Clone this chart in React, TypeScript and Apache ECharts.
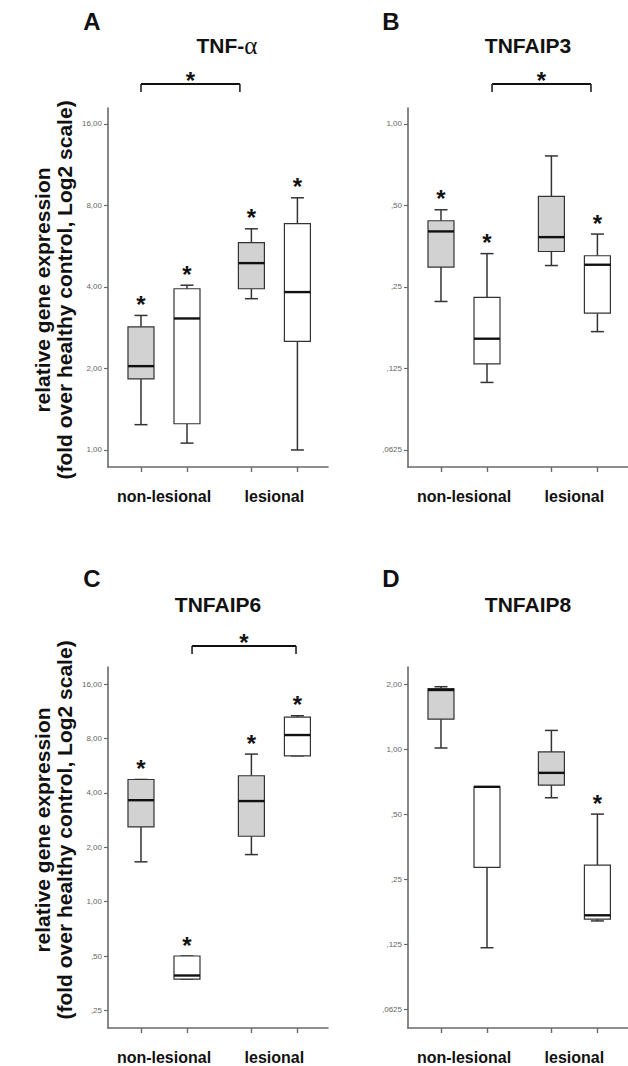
import React, { useEffect, useRef } from 'react';
import * as echarts from 'echarts';

// ---- data (fold over healthy control) ----
const groupLabels = ['non-lesional', 'lesional'];
// box order: non-lesional (grey), non-lesional (white), lesional (grey), lesional (white)
// each box: [min, Q1, median, Q3, max]
const tnfAlphaBoxes = [
  [1.24, 1.83, 2.04, 2.85, 3.14],
  [1.06, 1.25, 3.06, 3.94, 4.06],
  [3.62, 3.94, 4.9, 5.83, 6.56],
  [1.0, 2.52, 3.83, 6.85, 8.54],
];
const tnfaip3Boxes = [
  [0.221, 0.296, 0.401, 0.439, 0.482],
  [0.111, 0.13, 0.161, 0.229, 0.332],
  [0.3, 0.338, 0.382, 0.54, 0.762],
  [0.171, 0.2, 0.302, 0.326, 0.392],
];
const tnfaip6Boxes = [
  [1.66, 2.59, 3.64, 4.74, 4.74],
  [0.372, 0.372, 0.39, 0.5, 0.5],
  [1.82, 2.3, 3.6, 4.97, 6.55],
  [6.41, 6.41, 8.35, 10.5, 10.68],
];
const tnfaip8Boxes = [
  [1.018, 1.384, 1.89, 1.917, 1.957],
  [0.121, 0.285, 0.673, 0.673, 0.673],
  [0.599, 0.685, 0.781, 0.976, 1.228],
  [0.161, 0.164, 0.171, 0.292, 0.503],
];
// significance star above each box (1 = yes)
const tnfAlphaStars = [1, 1, 1, 1];
const tnfaip3Stars = [1, 1, 0, 1];
const tnfaip6Stars = [1, 1, 1, 1];
const tnfaip8Stars = [0, 0, 0, 1];
// significance brackets between groups (x in box units)
const tnfAlphaBracket = [0, 2.15];
const tnfaip3Bracket = [1.11, 3.26];
const tnfaip6Bracket = [1.11, 3.37];
// y tick values
const yTicksA = [1, 2, 4, 8, 16];
const yTicksB = [0.0625, 0.125, 0.25, 0.5, 1];
const yTicksC = [0.25, 0.5, 1, 2, 4, 8, 16];
const yTicksD = [0.0625, 0.125, 0.25, 0.5, 1, 2];

// ---- layout ----
const boxX = [0, 1, 2.4, 3.4];
const xRange = [-0.717, 4.065];
const groupLabelX = [0.5, 2.9];
const FONT = '"Liberation Sans", Arial, sans-serif';

const panels = [
  { boxes: tnfAlphaBoxes, stars: tnfAlphaStars, bracket: tnfAlphaBracket, ticks: yTicksA, yRange: [-0.209, 4.196], grid: { left: 108, top: 108, width: 220, height: 359 }, bracketOff: 24 },
  { boxes: tnfaip3Boxes, stars: tnfaip3Stars, bracket: tnfaip3Bracket, ticks: yTicksB, yRange: [-4.209, 0.196], grid: { left: 408, top: 108, width: 220, height: 359 }, bracketOff: 24 },
  { boxes: tnfaip6Boxes, stars: tnfaip6Stars, bracket: tnfaip6Bracket, ticks: yTicksC, yRange: [-2.3235, 4.3125], grid: { left: 108, top: 667, width: 220, height: 361 }, bracketOff: 21 },
  { boxes: tnfaip8Boxes, stars: tnfaip8Stars, bracket: null as number[] | null, ticks: yTicksD, yRange: [-4.282, 1.272], grid: { left: 408, top: 667, width: 220, height: 361 }, bracketOff: 21 },
];

const fmtTick = (n: number) => {
  if (n >= 1) return n.toFixed(2).replace('.', ',');
  let dec = n.toString().split('.')[1] || '';
  if (dec.length < 2) dec = dec.padEnd(2, '0');
  return ',' + dec;
};

const AXIS_COLOR = '#6a6a6a';
const STROKE = '#333';

function renderBox(params: any, api: any) {
  const x = api.value(0);
  const cx = api.coord([x, api.value(1)])[0];
  const yLo = api.coord([x, api.value(1)])[1];
  const yQ1 = api.coord([x, api.value(2)])[1];
  const yMed = api.coord([x, api.value(3)])[1];
  const yQ3 = api.coord([x, api.value(4)])[1];
  const yHi = api.coord([x, api.value(5)])[1];
  const grey = api.value(6) === 1;
  const star = api.value(7) === 1;
  const hw = 13;
  const cw = 6.5;
  const ls = { stroke: STROKE, lineWidth: 1.5 };
  const children: any[] = [
    { type: 'line', shape: { x1: cx, y1: yHi, x2: cx, y2: yQ3 }, style: ls },
    { type: 'line', shape: { x1: cx, y1: yQ1, x2: cx, y2: yLo }, style: ls },
    { type: 'line', shape: { x1: cx - cw, y1: yHi, x2: cx + cw, y2: yHi }, style: ls },
    { type: 'line', shape: { x1: cx - cw, y1: yLo, x2: cx + cw, y2: yLo }, style: ls },
    {
      type: 'rect',
      shape: { x: cx - hw, y: yQ3, width: hw * 2, height: Math.max(yQ1 - yQ3, 0.5) },
      style: { fill: grey ? '#d2d2d2' : '#ffffff', stroke: STROKE, lineWidth: 1.2 },
    },
    { type: 'line', shape: { x1: cx - hw, y1: yMed, x2: cx + hw, y2: yMed }, style: { stroke: '#111', lineWidth: 2.4 } },
  ];
  if (star) {
    children.push({
      type: 'text',
      style: { text: '*', x: cx, y: yHi - 11, align: 'center', verticalAlign: 'middle', fontSize: 24, fontWeight: 'bold', fontFamily: FONT, fill: '#111' },
    });
  }
  return { type: 'group', children };
}

function makeBracketRenderer(off: number) {
  return (params: any, api: any) => {
    const x1 = api.coord([api.value(0), 0])[0];
    const x2 = api.coord([api.value(1), 0])[0];
    const top = params.coordSys.y - off;
    const ls = { stroke: '#222', lineWidth: 1.6 };
    return {
      type: 'group',
      children: [
        { type: 'line', shape: { x1, y1: top, x2, y2: top }, style: { stroke: '#111', lineWidth: 2 } },
        { type: 'line', shape: { x1, y1: top, x2: x1, y2: top + 8 }, style: ls },
        { type: 'line', shape: { x1: x2, y1: top, x2, y2: top + 8 }, style: ls },
        {
          type: 'text',
          style: { text: '*', x: (x1 + x2) / 2, y: top - 4, align: 'center', verticalAlign: 'middle', fontSize: 24, fontWeight: 'bold', fontFamily: FONT, fill: '#111' },
        },
      ],
    };
  };
}

export default function App() {
  const ref = useRef<HTMLDivElement>(null);
  useEffect(() => {
    if (!ref.current) return;
    const chart = echarts.init(ref.current, undefined, { renderer: 'svg' });

    const grid: any[] = [];
    const xAxis: any[] = [];
    const yAxis: any[] = [];
    const series: any[] = [];

    panels.forEach((p, i) => {
      grid.push({ ...p.grid, containLabel: false });
      xAxis.push({
        type: 'value',
        gridIndex: i,
        min: xRange[0],
        max: xRange[1],
        splitLine: { show: false },
        axisLine: { onZero: false, lineStyle: { color: AXIS_COLOR, width: 1.6 } },
        axisTick: { customValues: boxX, length: 5, lineStyle: { color: AXIS_COLOR, width: 1.4 } },
        axisLabel: {
          customValues: groupLabelX,
          formatter: (v: number) => (v < 1.7 ? groupLabels[0] : groupLabels[1]),
          margin: 21,
          fontSize: 16,
          fontWeight: 'bold',
          fontFamily: FONT,
          color: '#111',
        },
      });
      yAxis.push({
        type: 'value',
        gridIndex: i,
        min: p.yRange[0],
        max: p.yRange[1],
        splitLine: { show: false },
        axisLine: { onZero: false, lineStyle: { color: AXIS_COLOR, width: 1.6 } },
        axisTick: { customValues: p.ticks.map((t) => Math.log2(t)), length: 4, lineStyle: { color: AXIS_COLOR, width: 1.2 } },
        axisLabel: {
          customValues: p.ticks.map((t) => Math.log2(t)),
          formatter: (v: number) => fmtTick(Math.pow(2, Math.round(v))),
          margin: 6,
          fontSize: 8,
          fontFamily: FONT,
          color: '#666',
        },
      });
      series.push({
        type: 'custom',
        xAxisIndex: i,
        yAxisIndex: i,
        clip: false,
        renderItem: renderBox,
        encode: { x: 0, y: [1, 2, 3, 4, 5] },
        data: p.boxes.map((b, j) => [
          boxX[j],
          ...b.map((v) => Math.log2(v)),
          j % 2 === 0 ? 1 : 0,
          p.stars[j],
        ]),
      });
      if (p.bracket) {
        series.push({
          type: 'custom',
          xAxisIndex: i,
          yAxisIndex: i,
          clip: false,
          renderItem: makeBracketRenderer(p.bracketOff),
          encode: { x: [0, 1], y: 2 },
          data: [[p.bracket[0], p.bracket[1], 0]],
        });
      }
    });

    const letterStyle = (t: string, x: number, y: number) => ({
      type: 'text',
      x,
      y,
      style: { text: t, align: 'center', verticalAlign: 'middle', fontSize: 24, fontWeight: 'bold', fontFamily: FONT, fill: '#111' },
    });
    const titleStyle = (t: string, x: number, y: number) => ({
      type: 'text',
      x,
      y,
      style: { text: t, align: 'center', verticalAlign: 'middle', fontSize: 21, fontWeight: 'bold', fontFamily: FONT, fill: '#111' },
    });
    const yTitle = (y: number) => ({
      type: 'text',
      x: 53,
      y,
      rotation: Math.PI / 2,
      style: {
        text: 'relative gene expression\n(fold over healthy control, Log2 scale)',
        align: 'center',
        verticalAlign: 'middle',
        fontSize: 21,
        lineHeight: 22,
        fontWeight: 'bold',
        fontFamily: FONT,
        fill: '#111',
      },
    });

    chart.setOption({
      animation: false,
      backgroundColor: '#ffffff',
      grid,
      xAxis,
      yAxis,
      series,
      graphic: [
        letterStyle('A', 92, 21),
        letterStyle('B', 391, 21),
        letterStyle('C', 92, 578),
        letterStyle('D', 391, 578),
        {
          type: 'text',
          x: 227,
          y: 45,
          style: {
            text: '{b|TNF-}{a|α}',
            align: 'center',
            verticalAlign: 'middle',
            rich: {
              b: { fontSize: 21, fontWeight: 'bold', fontFamily: FONT, fill: '#111' },
              a: { fontSize: 25, fontFamily: '"Liberation Serif", "DejaVu Serif", serif', fill: '#111' },
            },
          },
        },
        titleStyle('TNFAIP3', 528, 45),
        titleStyle('TNFAIP6', 218, 604),
        titleStyle('TNFAIP8', 528, 604),
        yTitle(290),
        yTitle(830),
      ],
    });
    return () => chart.dispose();
  }, []);
  return <div ref={ref} style={{ position: 'absolute', left: 0, top: 0, width: 628, height: 1066 }} />;
}
